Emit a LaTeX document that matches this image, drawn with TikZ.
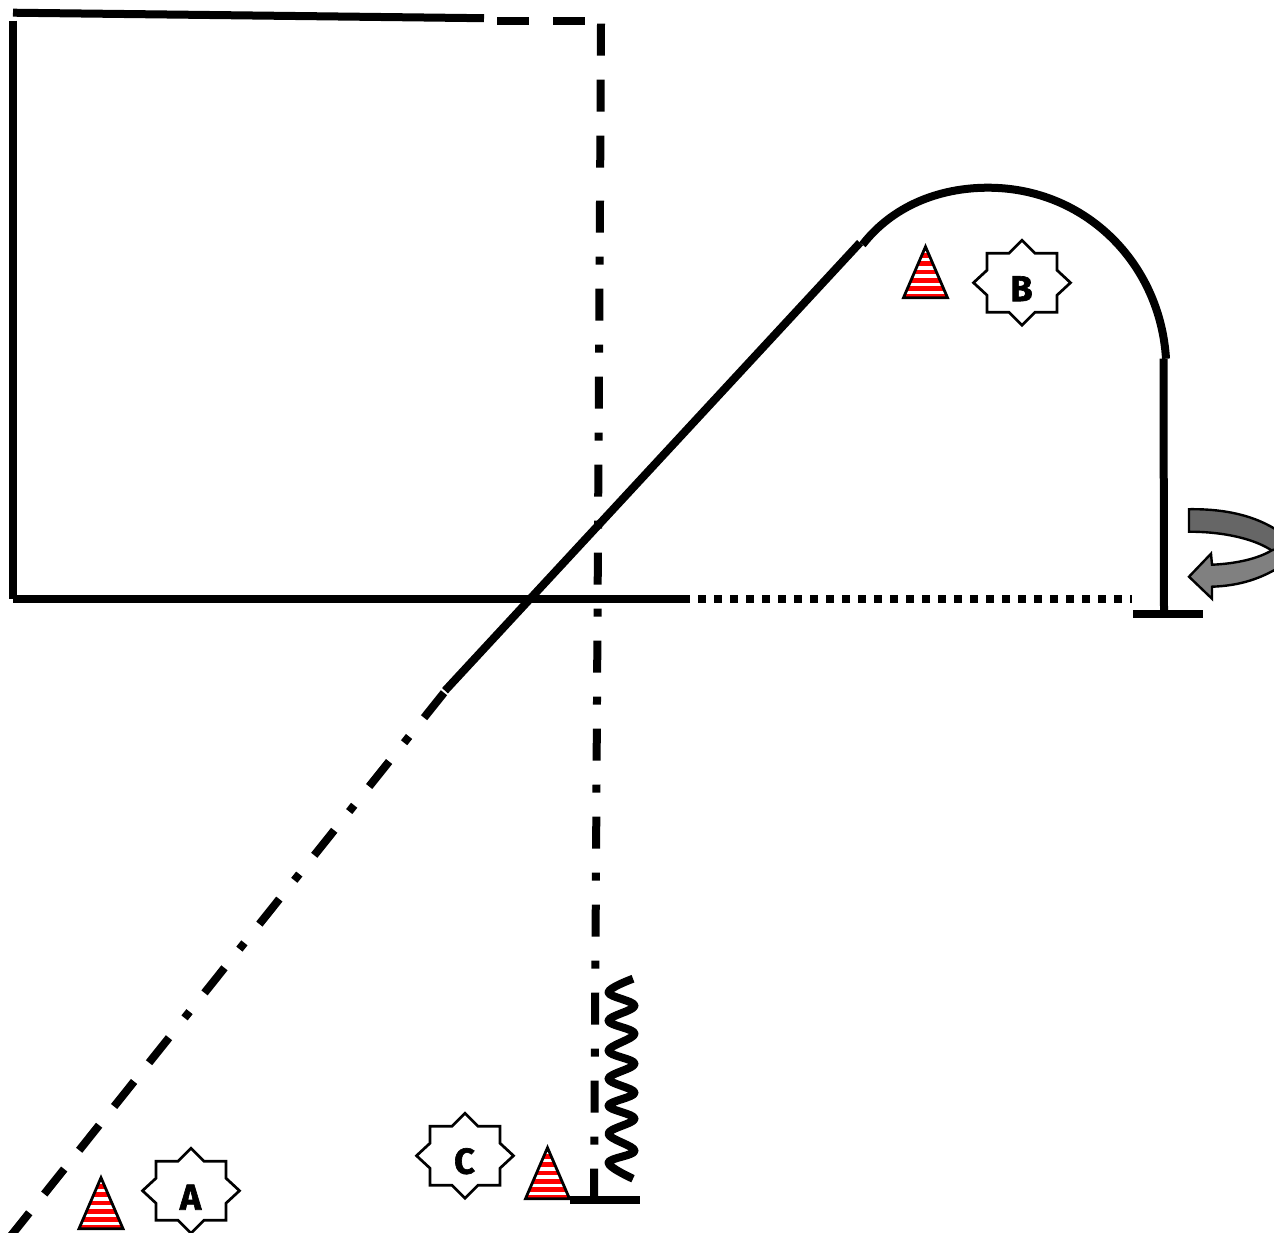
\documentclass[tikz,border=0pt]{standalone}
\usepackage{fontspec}
\newfontfamily\lblfont{Fira Sans Bold}[FakeBold=1.8]
\tikzset{
  x=1pt,y=-1pt,
  thickline/.style={line width=8pt,line cap=butt,line join=miter},
  dashdot/.style={thickline,dash pattern=on 32pt off 24pt on 8pt off 24pt},
  dashonly/.style={thickline,dash pattern=on 32pt off 24pt},
  dotline/.style={thickline,dash pattern=on 8pt off 8pt},
  coneedge/.style={draw=black,line width=2.8pt,line join=miter},
  staredge/.style={draw=black,line width=2.7pt,fill=white,line join=miter},
  arrowedge/.style={draw=black,line width=2.4pt,line join=miter},
  letter/.style={font=\lblfont\fontsize{36}{36}\selectfont,inner sep=0pt,text=black},
  pics/cone/.style={code={
    \begin{scope}
      \clip (0,0) -- (22,51) -- (-22,51) -- cycle;
      \fill[white] (-23,0) rectangle (23,51);
      \foreach \s in {8.6,16.6,25,33.6,41.8,49.2}{
        \fill[red] (-23,\s-2.2) rectangle (23,\s+2.2);
      }
    \end{scope}
    \draw[coneedge] (0,0) -- (22,51) -- (-22,51) -- cycle;
  }},
  pics/starshape/.style={code={
    \draw[staredge] (0,-42.5) -- (13,-29.5) -- (35,-29.5) -- (35,-12.5) -- (48.5,0)
      -- (35,12.5) -- (35,29.5) -- (13,29.5) -- (0,42.5) -- (-13,29.5) -- (-35,29.5)
      -- (-35,12.5) -- (-48.5,0) -- (-35,-12.5) -- (-35,-29.5) -- (-13,-29.5) -- cycle;
  }}
}
\begin{document}
\begin{tikzpicture}
\useasboundingbox (0,0) rectangle (1274,1232);
\clip (0,0) rectangle (1274,1232);
\begin{scope}[yshift=-0.7pt]
% named end points
\coordinate (topL) at (13,12);
\coordinate (topM) at (484,17.5);
\coordinate (dashA) at (497,20);
\coordinate (dashB) at (585,20);
\coordinate (vertTop) at (601,23);
\coordinate (vertMid) at (600.2,167);
\coordinate (vertNext) at (600,200);
\coordinate (vertBot) at (594,1199);
\coordinate (leftTop) at (13,20);
\coordinate (leftBot) at (13,598);
\coordinate (horStart) at (13,598);
\coordinate (horEnd) at (690,598);
\coordinate (dotA) at (698,598);
\coordinate (dotB) at (1132,598);
\coordinate (diagTop) at (860,242);
\coordinate (diagMid) at (445,690);
\coordinate (diagNext) at (444,692);
\coordinate (diagKnee) at (181.5,1021);
\coordinate (diagDash) at (169,1037);
\coordinate (diagEnd) at (7,1240);
\coordinate (postTop) at (1163.5,358);
\coordinate (postBot) at (1164,613);
\coordinate (baseAL) at (1133,613);
\coordinate (baseAR) at (1203,613);
\coordinate (baseBL) at (570,1199);
\coordinate (baseBR) at (640,1199);
% frame
\draw[thickline] (topL) -- (topM);
\draw[dashonly] (dashA) -- (dashB);
\draw[thickline] (leftTop) -- (leftBot);
\draw[thickline] (horStart) -- (horEnd);
\draw[dotline] (dotA) -- (dotB);
% vertical line
\draw[dashonly] (vertTop) -- (vertMid);
\draw[dashdot] (vertNext) -- (vertBot);
% diagonal
\draw[thickline] (diagTop) -- (diagMid);
\draw[dashdot] (diagNext) -- (diagKnee);
\draw[dashonly] (diagDash) -- (diagEnd);
% arc
\draw[thickline] (862.5,244) .. controls (892,206) and (938,187) .. (988,187)
  .. controls (1085,187) and (1160,262) .. (1166,358);
% posts and bases
\draw[thickline] (postTop) -- (postBot);
\draw[thickline] (baseAL) -- (baseAR);
\draw[thickline] (baseBL) -- (baseBR);
% spring
\draw[line width=8pt,line cap=butt,line join=round] plot[smooth,tension=0.62] coordinates {
 (633,978) (608.5,991.7) (634.5,1005) (608.5,1020) (634.5,1033) (608.5,1050)
 (634.5,1063) (608.5,1078) (634.5,1092) (608.5,1105) (634.5,1118) (608.5,1133)
 (634.5,1150) (608.5,1162) (633,1178)};
% curved arrow
\draw[arrowedge,fill=black!60] (1189,508.5) .. controls (1228,508) and (1260,516) .. (1285,535)
  -- (1285,553) -- (1272,550) .. controls (1256,539) and (1226,531) .. (1189,531) -- cycle;
\draw[arrowedge,fill=black!50] (1272,549.5) .. controls (1258,558) and (1236,563) .. (1212,564)
  -- (1211,553) -- (1189,576) -- (1212,598) -- (1212,586)
  .. controls (1240,585) and (1262,578) .. (1285,563) -- (1285,546) -- cycle;
% cones
\pic at (925.5,246) {cone};
\pic at (547.5,1147) {cone};
\pic at (101,1177) {cone};
% stars
\pic at (1022,282) {starshape};
\pic at (465,1155) {starshape};
\pic at (191,1190) {starshape};
\node[letter] (lblB) at (1021.5,288) {B};
\node[letter] (lblC) at (464.5,1160.5) {C};
\node[letter] (lblA) at (190.5,1196.5) {A};
\end{scope}
\end{tikzpicture}
\end{document}
